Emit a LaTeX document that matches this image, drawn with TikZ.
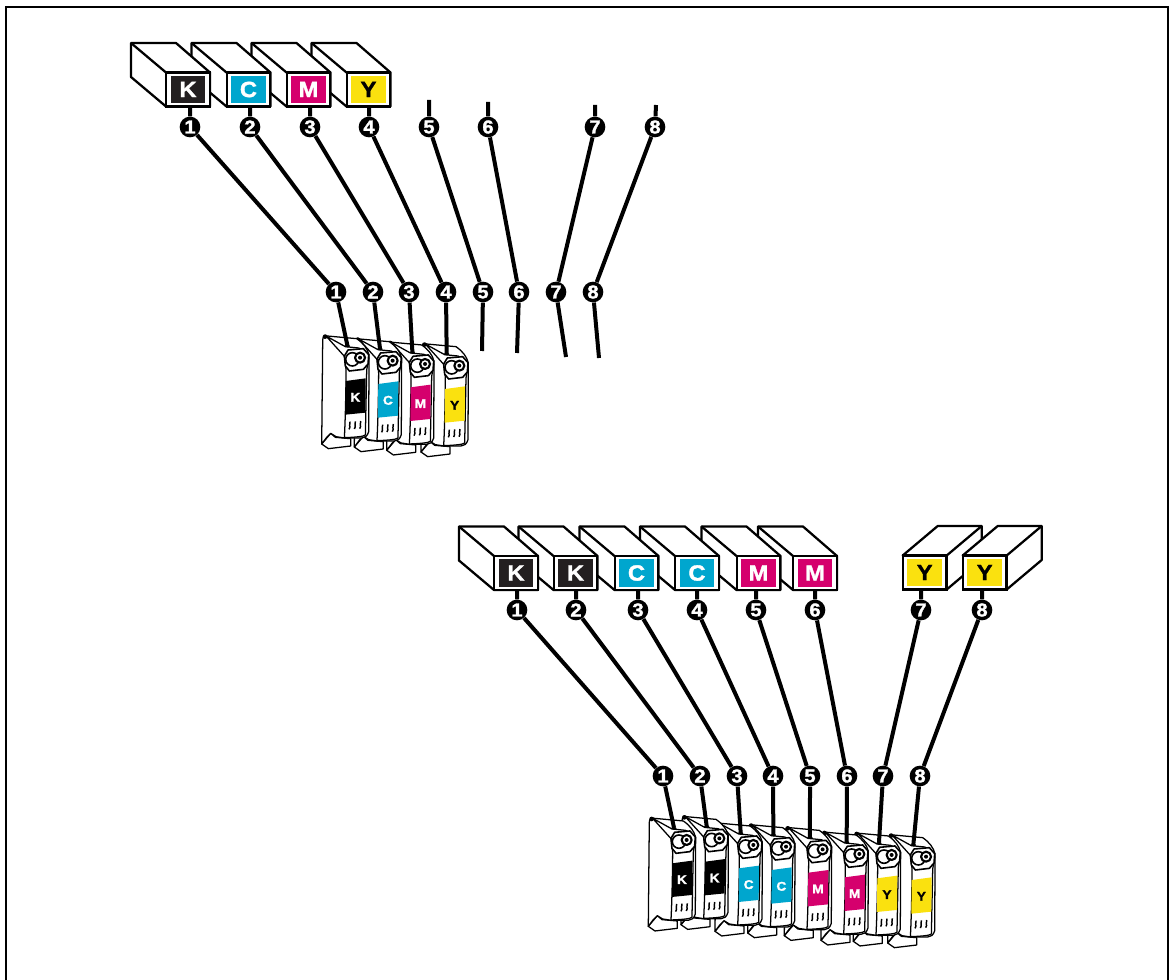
\documentclass[tikz,border=0pt]{standalone}
\usepackage{fontspec}
\setmainfont{Liberation Sans}
\newfontfamily\heavy[UprightFont=* Bold,FakeBold=1.6,FakeStretch=1.08]{Liberation Sans}
\definecolor{inkK}{HTML}{231F20}
\definecolor{inkC}{HTML}{00A6CE}
\definecolor{inkM}{HTML}{D5006D}
\definecolor{inkY}{HTML}{FAE10F}
\tikzset{
  conn/.style={line width=3pt,black},
  badge/.style={circle,fill=black,text=white,inner sep=0pt,minimum size=15.5pt,font=\heavy\fontsize{14}{14}\selectfont},
  frontbox/.style={draw=black,fill=white,line width=1.7pt,minimum width=32.5pt,minimum height=25.5pt,inner sep=0pt},
  labelbox/.style={minimum width=26pt,minimum height=20.5pt,inner sep=0pt,font=\heavy\fontsize{16.5}{16.5}\selectfont},
  boxline/.style={draw=black,fill=white,line width=1.7pt,line join=round},
  cartline/.style={draw=black,fill=white,line width=.95pt,line join=round},
  inkline/.style={draw=black,line width=1pt},
}
\newcommand{\lbox}[6]{%
  \draw[boxline] (#2-57,#3-12.5) -- (#2-57,#3-46.5) -- (#2-12,#3-46.5) -- (#2+22,#3-17) -- (#2+22,#3+17) -- (#2-22,#3+17) -- cycle;
  \draw[boxline] (#2-57,#3-46.5) -- (#2-22,#3-17);
  \node[frontbox] (#1) at (#2,#3) {};
  \node[labelbox,fill=#4,text=#5] (#1t) at (#2,#3) {#6};
}
\newcommand{\rbox}[6]{%
  \draw[boxline] (#2+22,#3+17) -- (#2+57,#3-12.5) -- (#2+57,#3-46.5) -- (#2+13,#3-46.5) -- (#2-22,#3-17) -- (#2+22,#3-17) -- cycle;
  \draw[boxline] (#2+22,#3-17) -- (#2+57,#3-46.5);
  \node[frontbox] (#1) at (#2,#3) {};
  \node[labelbox,fill=#4,text=#5] (#1t) at (#2,#3) {#6};
}
\newcommand{\cart}[6]{%
  \begin{scope}[x=.25pt,y=-.25pt,shift={(#2*3-107,#3*3-183)}]
    % foot
    \draw[cartline] (35,372) -- (55,386) -- (122,378) -- (122,356) -- (76,352) -- (62,340) -- (52,352) -- cycle;
    % back body
    \draw[cartline] (38,60) .. controls (38,50) and (45,42) .. (52,48) -- (140,56) .. controls (160,70) and (172,85) .. (177,105)
       -- (176,335) .. controls (172,348) and (165,354) .. (155,354) -- (104,354) -- (78,350) -- (62,340) -- (50,352) -- (35,372) -- cycle;
    \fill (45,50) circle (7);
    % front panel
    \draw[cartline] (48,48) -- (106,80) -- (146,84) .. controls (165,92) and (172,100) .. (176,115)
       -- (170,150) -- (166,345) .. controls (162,350) and (130,352) .. (103,353)
       .. controls (106,300) and (108,200) .. (108,150) -- (104,110) -- cycle;
    \fill[#4] (107,183) -- (167,175) -- (166,278) -- (106,284) -- cycle;
    \node[font=\heavy\fontsize{9.5}{9.5}\selectfont,text=#5] (#1l) at (136,232) {#6};
    % head
    \draw[cartline,line width=1.2pt] (114,90) -- (160,86) -- (176,104) -- (174,132) -- (160,148) -- (118,153) -- (106,138) -- (103,108) -- cycle;
    \draw[cartline,line width=1.2pt] (127,118) circle (20);
    \draw[cartline,line width=1.6pt] (150,113) circle (15);
    \fill (150,113) circle (6);
    % ticks
    \foreach \q in {0,1,2}
      \draw[inkline,line width=1.1pt] (120+\q*16,305-\q) .. controls (114+\q*16,314-\q) and (124+\q*16,318-\q) .. (117+\q*16,328-\q);
    \fill (112,78) ellipse (8 and 4);
    \coordinate (#1) at (112,76);
  \end{scope}
}
\begin{document}
\begin{tikzpicture}[x=.75pt,y=-.75pt]
\useasboundingbox (0,0) rectangle (1170,980);
\fill[white] (0,0) rectangle (1170,980);
\draw[line width=1.5pt] (6,985) -- (6,7) -- (1168,7) -- (1168,985);

\lbox{ya}{368.5}{89.5}{inkY}{black}{Y}
\lbox{ma}{308.5}{89.5}{inkM}{white}{M}
\lbox{ca}{248.5}{89.5}{inkC}{white}{C}
\lbox{ka}{188}{89.5}{inkK}{white}{K}

\cart{tiv}{445}{389}{inkY}{black}{Y}
\cart{tiii}{410.7}{387.3}{inkM}{white}{M}
\cart{tii}{378.3}{384}{inkC}{white}{C}
\cart{ti}{345.7}{381}{black}{white}{K}

\foreach \n/\x/\t in {ua1/190/1,ua2/250/2,ua3/310/3,ua4/369/4,ua5/429/5,ua6/488/6,ua7/595/7,ua8/655/8}
  \node[badge] (\n) at (\x,127) {\t};
\foreach \n/\x/\t in {ub1/336/1,ub2/373/2,ub3/409/3,ub4/446/4,ub5/483/5,ub6/519/6,ub7/556/7,ub8/593/8}
  \node[badge] (\n) at (\x,292) {\t};
\coordinate (us5) at (429,100);
\coordinate (us6) at (488,102);
\coordinate (us7) at (595,105);
\coordinate (us8) at (656,105);
\coordinate (ue5) at (482,351);
\coordinate (ue6) at (517,353);
\coordinate (ue7) at (566,357);
\coordinate (ue8) at (599,358);

\draw[conn] (ka.south -| ua1) -- (ua1) -- (ub1) -- (ti);
\draw[conn] (ca.south -| ua2) -- (ua2) -- (ub2) -- (tii);
\draw[conn] (ma.south -| ua3) -- (ua3) -- (ub3) -- (tiii);
\draw[conn] (ya.south -| ua4) -- (ua4) -- (ub4) -- (tiv);
\draw[conn] (us5) -- (ua5) -- (ub5) -- (ue5);
\draw[conn] (us6) -- (ua6) -- (ub6) -- (ue6);
\draw[conn] (us7) -- (ua7) -- (ub7) -- (ue7);
\draw[conn] (us8) -- (ua8) -- (ub8) -- (ue8);

\lbox{mf}{815}{573}{inkM}{white}{M}
\lbox{me}{758.5}{573}{inkM}{white}{M}
\lbox{cd}{697}{573}{inkC}{white}{C}
\lbox{cc}{636.5}{573}{inkC}{white}{C}
\lbox{kb}{575.5}{573}{inkK}{white}{K}
\lbox{kc}{516}{573}{inkK}{white}{K}
\rbox{yg}{924.7}{572.5}{inkY}{black}{Y}
\rbox{yh}{984.7}{572.5}{inkY}{black}{Y}

\cart{lviii}{911.7}{880}{inkY}{black}{Y}
\cart{lvii}{877.3}{878.3}{inkY}{black}{Y}
\cart{lvi}{845}{877.3}{inkM}{white}{M}
\cart{lv}{808.3}{872.7}{inkM}{white}{M}
\cart{liv}{771.7}{870}{inkC}{white}{C}
\cart{liii}{739}{868.3}{inkC}{white}{C}
\cart{lii}{705}{861.7}{black}{white}{K}
\cart{li}{672.3}{863.3}{black}{white}{K}

\foreach \n/\x/\t in {la1/517/1,la2/576/2,la3/638/3,la4/697/4,la5/756/5,la6/815/6,la7/921/7,la8/982/8}
  \node[badge] (\n) at (\x,610) {\t};
\foreach \n/\x/\t in {lb1/663/1,lb2/700/2,lb3/737/3,lb4/773/4,lb5/810/5,lb6/847/6,lb7/883/7,lb8/920/8}
  \node[badge] (\n) at (\x,776) {\t};

\draw[conn] (kc.south -| la1) -- (la1) -- (lb1) -- (li);
\draw[conn] (kb.south -| la2) -- (la2) -- (lb2) -- (lii);
\draw[conn] (cc.south -| la3) -- (la3) -- (lb3) -- (liii);
\draw[conn] (cd.south -| la4) -- (la4) -- (lb4) -- (liv);
\draw[conn] (me.south -| la5) -- (la5) -- (lb5) -- (lv);
\draw[conn] (mf.south -| la6) -- (la6) -- (lb6) -- (lvi);
\draw[conn] (yg.south -| la7) -- (la7) -- (lb7) -- (lvii);
\draw[conn] (yh.south -| la8) -- (la8) -- (lb8) -- (lviii);
\end{tikzpicture}
\end{document}
